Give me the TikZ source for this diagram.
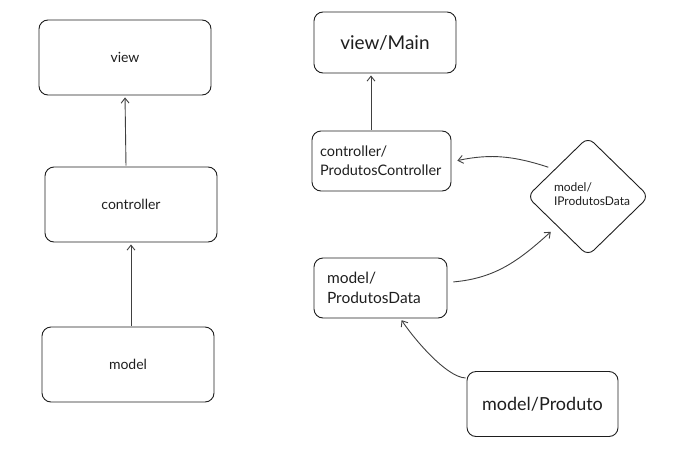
\documentclass[tikz,border=0pt]{standalone}
\usepackage{fontspec}
\setmainfont{Lato}
\usetikzlibrary{arrows.meta,shapes.geometric}
\definecolor{ink}{HTML}{1E1E1E}
\tikzset{
  box/.style={draw=ink, line width=0.9pt, rounded corners=9pt, minimum width=#1, inner sep=0pt},
  arr/.style={draw=ink!85, line width=0.9pt, -{Straight Barb[length=5pt,width=8pt]}, shorten >=2pt, shorten <=1pt},
  small/.style={font=\fontsize{14}{16}\selectfont, text=ink},
  big/.style={font=\fontsize{19}{21}\selectfont, text=ink},
}
\begin{document}
\begin{tikzpicture}[x=1pt,y=-1pt]
\useasboundingbox (0,0) rectangle (692,452);
% left column
\node[box=172pt, minimum height=75pt, small] (view) at (125,57.5) {view};
\node[box=172pt, minimum height=75pt, small] (controller) at (131,204.5) {controller};
\node[box=172pt, minimum height=75pt, small] (model) at (128,364.5) {model};
\draw[arr] ([xshift=-5pt]controller.north) -- (view.south);
\draw[arr] ([xshift=3pt]model.north) -- (controller.south);
% right column
\node[box=142pt, minimum height=61pt, big] (main) at (385,42.5) {view/Main};
\node[box=133pt, minimum height=60pt, align=left, text width=123pt, inner xsep=8pt, font=\fontsize{14.5}{19}\selectfont, text=ink] (pc) at (381.5,161) {controller/\\ProdutosController};
\node[box=133pt, minimum height=60pt, align=left, text width=107pt, inner xsep=13pt, font=\fontsize{15.5}{20}\selectfont, text=ink] (pd) at (380.5,288) {model/\\ProdutosData};
\node[box=151pt, minimum height=65pt, font=\fontsize{18}{20}\selectfont, text=ink] (prod) at (542.5,404) {model/Produto};
\node[draw=ink, line width=0.9pt, diamond, rounded corners=8pt, minimum width=122pt, minimum height=119pt, inner sep=0pt] (dia) at (588,196.5) {};
\node[font=\fontsize{12}{14}\selectfont, text=ink, align=left] (diatext) at (592,194) {model/\\IProdutosData};
\draw[arr] ([xshift=-10.5pt]pc.north) -- ([xshift=-14pt]main.south);
\draw[arr] ([xshift=-8pt,yshift=-1pt]dia.north west) to[out=162, in=12] ([xshift=4pt]pc.east);
\draw[arr] ([xshift=5pt,yshift=6pt]pd.east) to[out=5, in=222] ([xshift=-5pt,yshift=-4pt]dia.south west);
\draw[arr] ([yshift=26pt]prod.west) to[out=178, in=-57, looseness=0.6] ([xshift=20pt]pd.south);
\end{tikzpicture}
\end{document}
